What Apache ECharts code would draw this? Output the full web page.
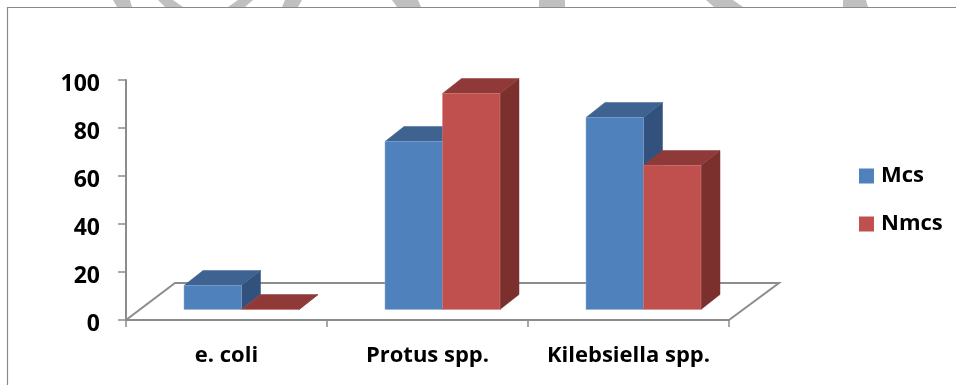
<!DOCTYPE html>
<html>
<head>
<meta charset="utf-8">
<style>html,body{margin:0;padding:0;background:#fff}#chart{width:956px;height:385px}</style>
<script src="https://cdn.jsdelivr.net/npm/echarts@6/dist/echarts.min.js"></script>
</head>
<body>
<div id="chart"></div>
<script>
const categories = ['e. coli', 'Protus spp.', 'Kilebsiella spp.'];
const mcsValues = [10, 70, 80];
const nmcsValues = [0, 90, 60];
const yTicks = [0, 20, 40, 60, 80, 100];

// Oblique projection used for the pseudo-3D floor and columns
const DEPTH_X = 19, DEPTH_Y = -15;
const FLOOR_X = 49, FLOOR_Y = -37;
const LIFT = 10.5, SHIFT = -42.5, BAR_W = 57.5;
const FONT = '"Open Sans", sans-serif';
const AXIS_GREY = '#8c8c8c';

// Grey shapes of the page artwork showing above the frame: [topLeft, topRight, bottomRight, bottomLeft]
const pageMarks = [
  [113, 130, 132, 117], [158, 173, 183, 165], [238, 253, 245, 228], [285, 302, 298, 282],
  [392, 418, 421, 397], [539, 565, 565, 539], [706, 733, 743, 714], [843, 866, 868, 843]
];

function poly(points, fill) {
  return { type: 'polygon', shape: { points }, style: { fill, stroke: fill, lineWidth: 0.5 } };
}

function columnItem(offset, front, top, side, edge) {
  return function (params, api) {
    const cat = api.value(0), val = api.value(1);
    const base = api.coord([cat, 0]);
    const head = api.coord([cat, val]);
    const x0 = base[0] + SHIFT + offset * BAR_W, x1 = x0 + BAR_W;
    const y0 = base[1] - LIFT, y1 = head[1] - LIFT;
    const dx = DEPTH_X, dy = DEPTH_Y;
    return {
      type: 'group',
      children: [
        poly([[x1, y0], [x1 + dx, y0 + dy], [x1 + dx, y1 + dy], [x1, y1]], side),
        poly([[x0, y1], [x0 + dx, y1 + dy], [x1 + dx, y1 + dy], [x1, y1]], top),
        { type: 'rect', shape: { x: x0, y: y1, width: BAR_W, height: y0 - y1 }, style: { fill: front, stroke: edge, lineWidth: 0.5 } }
      ]
    };
  };
}

function floorItem(params, api) {
  const band = api.size([1, 0])[0];
  const first = api.coord([0, 0]);
  const last = api.coord([categories.length - 1, 0]);
  const a = [first[0] - band / 2, first[1]];
  const b = [last[0] + band / 2, last[1]];
  return {
    type: 'polyline',
    shape: { points: [a, [a[0] + FLOOR_X, a[1] + FLOOR_Y], [b[0] + FLOOR_X + 1, b[1] + FLOOR_Y], b] },
    style: { fill: null, stroke: AXIS_GREY, lineWidth: 2 }
  };
}

const chart = echarts.init(document.getElementById('chart'), null, { renderer: 'canvas' });
chart.setOption({
  animation: false,
  backgroundColor: '#fff',
  graphic: pageMarks.map(m => ({
    type: 'polygon', silent: true, z: 0,
    shape: { points: [[m[0], 0], [m[1], 0], [m[2], 7], [m[3], 7]] },
    style: { fill: '#c0c0c0' }
  })).concat([
    // Sheet frame around the plot
    { type: 'polyline', silent: true, z: 1, shape: { points: [[7.5, 385], [7.5, 7.5], [956, 7.5]] },
      style: { fill: null, stroke: '#8a8a8a', lineWidth: 1.2 } }
  ]),
  grid: { left: 126, right: 227, top: 80, height: 240, containLabel: false },
  legend: {
    orient: 'vertical', left: 859, top: 165, padding: 0, itemWidth: 15, itemHeight: 15, itemGap: 26,
    icon: 'rect', selectedMode: false,
    textStyle: { fontFamily: FONT, fontWeight: 'bold', fontSize: 22, color: '#000', padding: [0, 0, 0, 2] },
    data: [{ name: 'Mcs', itemStyle: { color: '#4f81bd' } }, { name: 'Nmcs', itemStyle: { color: '#c0504d' } }]
  },
  xAxis: {
    type: 'category', data: categories, boundaryGap: true,
    axisLine: { lineStyle: { color: AXIS_GREY, width: 2 } },
    axisTick: { show: true, length: 7, alignWithLabel: false, lineStyle: { color: AXIS_GREY, width: 1.5 } },
    axisLabel: { interval: 0, margin: 25, fontFamily: FONT, fontWeight: 'bold', fontSize: 22, color: '#000' }
  },
  yAxis: {
    type: 'value', min: 0, max: yTicks[yTicks.length - 1], interval: 20,
    splitLine: { show: false },
    axisLine: { show: true, lineStyle: { color: AXIS_GREY, width: 2 } },
    axisTick: { show: true, length: 8, lineStyle: { color: AXIS_GREY, width: 1.5 } },
    axisLabel: { margin: 26, verticalAlign: 'top', lineHeight: 8, fontFamily: FONT, fontWeight: 'bold', fontSize: 23, color: '#000' }
  },
  series: [
    { type: 'custom', name: 'floor', silent: true, z: 1, renderItem: floorItem, data: [[0]], encode: { x: 0 } },
    { type: 'custom', name: 'Mcs', z: 3, itemStyle: { color: '#4f81bd' }, encode: { x: 0, y: 1 },
      renderItem: columnItem(0, '#4f81bd', '#3e6391', '#32527d', '#8eaed5'),
      data: mcsValues.map((v, i) => [i, v]) },
    { type: 'custom', name: 'Nmcs', z: 4, itemStyle: { color: '#c0504d' }, encode: { x: 0, y: 1 },
      renderItem: columnItem(1, '#c0504d', '#8f3a38', '#7c302e', '#d18583'),
      data: nmcsValues.map((v, i) => [i, v]) }
  ]
});
</script>
</body>
</html>
